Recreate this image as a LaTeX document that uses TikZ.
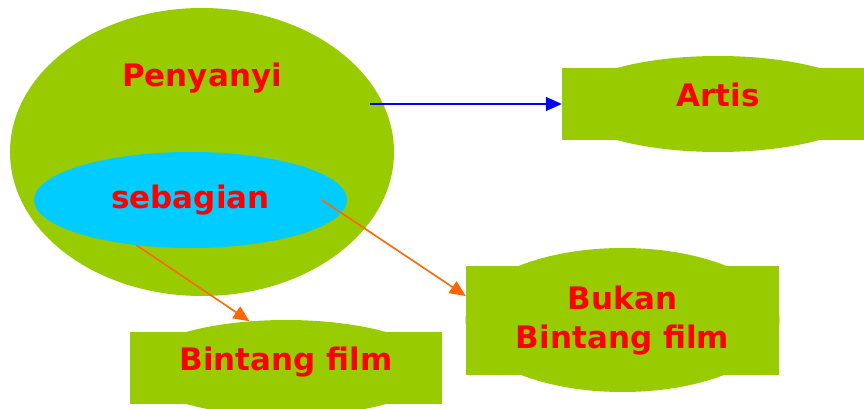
\documentclass[tikz,border=0pt]{standalone}
\usepackage{fontspec}
\setmainfont{DejaVu Sans}
\usepackage{xcolor}
\usetikzlibrary{positioning,shapes.geometric,arrows.meta}
\definecolor{setgreen}{HTML}{99CC00}
\definecolor{setcyan}{HTML}{00CCFF}
\definecolor{arrorange}{HTML}{FF6600}

\begin{document}
\begin{tikzpicture}[x=1pt,y=-1pt,
		txt/.style={text=red, font=\fontsize{31}{39}\selectfont\bfseries, align=center},
		greenbox/.style={rectangle, fill=setgreen, minimum width=312pt, inner sep=0pt},
		blob/.style={ellipse, fill=setgreen, inner sep=0pt},
		arr/.style={line width=1.6pt, -{Triangle[length=16pt,width=14pt]}}]
			\useasboundingbox (0,0) rectangle (864,409);
			\node[blob, minimum width=384pt, minimum height=288pt] (penyanyi) at (202,152) {};
			\node[txt, anchor=base] (penyanyitxt) at (202,87) {Penyanyi};
			\node[ellipse, fill=setcyan, inner sep=0pt, minimum width=313pt, minimum height=96pt, txt] (sebagian) at (190.5,200) {sebagian};
			\node[blob, minimum width=306pt, minimum height=96pt] (artisbg) at (718,104) {};
			\node[greenbox, minimum height=72pt, txt, text height=.75em, text depth=.25em] (artis) at (718,104) {Artis};
			\node[blob, minimum width=302pt, minimum height=96pt] (bintangbg) at (286,368) {};
			\node[greenbox, minimum height=72pt, txt, text height=.75em, text depth=.25em] (bintang) at (286,368) {Bintang film};
			\node[blob, minimum width=314pt, minimum height=144pt] (bukanbg) at (622.5,320) {};
			\node[greenbox, minimum width=313pt, minimum height=109pt, txt] (bukan) at (622.5,320.5) {Bukan\\Bintang film};
			\coordinate (bluestart) at (370,104);
			\coordinate (orangestart) at (322,200);
			\coordinate[yshift=24.5pt] (bukanin) at (bukan.west);
			\draw[arr, blue] (bluestart) -- (artis.west);
			\draw[arr, arrorange] (sebagian.220.6) -- (bintangbg.128);
			\draw[arr, arrorange] (orangestart) -- (bukanin);
		\end{tikzpicture}
\end{document}
